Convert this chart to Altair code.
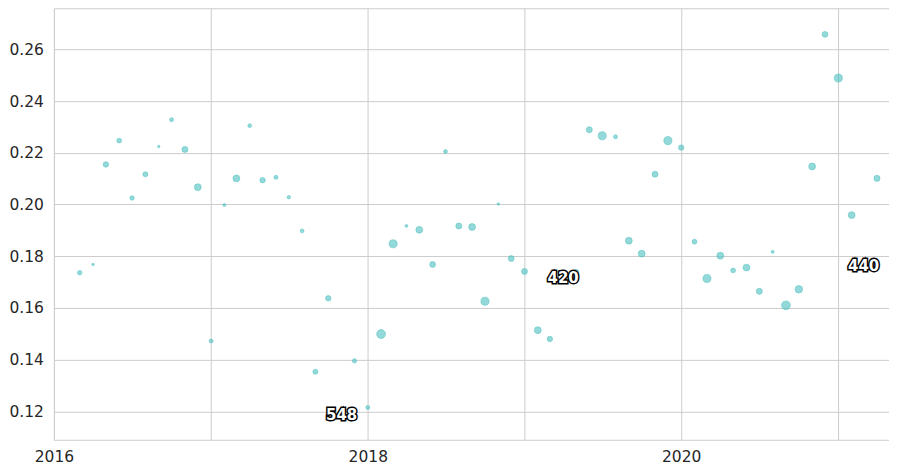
import altair as alt
import pandas as pd

months = [
    "2016-03", "2016-04", "2016-05", "2016-06", "2016-07", "2016-08", "2016-09", "2016-10", "2016-11", "2016-12",
    "2017-01", "2017-02", "2017-03", "2017-04", "2017-05", "2017-06", "2017-07", "2017-08", "2017-09", "2017-10", "2017-11", "2017-12",
    "2018-01", "2018-02", "2018-03", "2018-04", "2018-05", "2018-06", "2018-07", "2018-08", "2018-09", "2018-10", "2018-11", "2018-12",
    "2019-01", "2019-02", "2019-03", "2019-04", "2019-05", "2019-06", "2019-07", "2019-08", "2019-09", "2019-10", "2019-11", "2019-12",
    "2020-01", "2020-02", "2020-03", "2020-04", "2020-05", "2020-06", "2020-07", "2020-08", "2020-09", "2020-10", "2020-11", "2020-12",
    "2021-01", "2021-02", "2021-03", "2021-04",
]

values = [
    0.1736, 0.1768, 0.2155, 0.2247, 0.2025, 0.2117, 0.2224, 0.2328, 0.2213, 0.2067,
    0.1472, 0.1998, 0.2101, 0.2305, 0.2094, 0.2105, 0.2028, 0.1898, 0.1353, 0.1637, 0.1179, 0.1395,
    0.1215, 0.1499, 0.1848, 0.1917, 0.1902, 0.1768, 0.2205, 0.1917, 0.1913, 0.1626, 0.2002, 0.1791,
    0.1741, 0.1514, 0.1480, 0.1709, 0.1737, 0.2289, 0.2266, 0.2262, 0.1860, 0.1810, 0.2117, 0.2247,
    0.2220, 0.1856, 0.1714, 0.1802, 0.1745, 0.1756, 0.1664, 0.1817, 0.1610, 0.1672, 0.2147, 0.2658,
    0.2489, 0.1959, 0.1756, 0.2101,
]

counts = [
    145, 43, 219, 173, 145, 188, 43, 120, 270, 347,
    120, 68, 347, 108, 219, 120, 87, 108, 188, 219, 145, 132,
    120, 581, 480, 59, 347, 252, 108, 270, 347, 480, 43, 252,
    270, 347, 219, 219, 270, 270, 480, 120, 347, 347, 270, 480,
    219, 173, 480, 347, 173, 347, 270, 68, 581, 411, 347, 252,
    480, 347, 219, 270,
]

label_months = ["2017-11", "2019-04", "2021-03"]
label_texts = ["548", "420", "440"]

y_ticks = [0.12, 0.14, 0.16, 0.18, 0.20, 0.22, 0.24, 0.26]

df = pd.DataFrame({
    "date": [m + "-01" for m in months],
    "value": values,
    "count": counts,
})

lab_df = pd.DataFrame({
    "date": [m + "-01" for m in label_months],
    "value": [values[months.index(m)] for m in label_months],
    "label": label_texts,
})

FONT = "DejaVu Sans"
TXT = "#262626"
GRID = "#cccccc"

x_enc = alt.X(
    "date:T",
    title=None,
    scale=alt.Scale(
        type="utc",
        domain=[
            alt.DateTime(year=2016, month=1, date=1, utc=True),
            alt.DateTime(year=2021, month=4, date=29, utc=True),
        ],
    ),
    axis=alt.Axis(
        values=[alt.DateTime(year=y, month=1, date=1, utc=True) for y in range(2016, 2022)],
        labelExpr="utcyear(datum.value) % 2 == 0 ? utcFormat(datum.value, '%Y') : ''",
        grid=True,
        gridColor=GRID,
        gridWidth=1,
        ticks=False,
        tickSize=0,
        domain=False,
        labelFont=FONT,
        labelFontSize=15.5,
        labelColor=TXT,
        labelPadding=10,
        labelFlush=False,
        labelOverlap=False,
    ),
)

y_enc = alt.Y(
    "value:Q",
    title=None,
    scale=alt.Scale(domain=[0.109, 0.2759], nice=False, zero=False),
    axis=alt.Axis(
        values=y_ticks,
        format=".2f",
        grid=True,
        gridColor=GRID,
        gridWidth=1,
        ticks=False,
        tickSize=0,
        domain=False,
        labelFont=FONT,
        labelFontSize=15.5,
        labelColor=TXT,
        labelPadding=10.5,
    ),
)

points = alt.Chart(df).mark_circle(
    color="#4bc0c0",
    fillOpacity=0.6,
    stroke="#4bc0c0",
    strokeOpacity=0.6,
    strokeWidth=0.8,
).encode(
    x=x_enc,
    y=y_enc,
    size=alt.Size("count:Q", scale=alt.Scale(domain=[0, 600], range=[0, 82]), legend=None),
)

outline = alt.Chart(lab_df).mark_text(
    font=FONT, fontSize=15, fontWeight="bold", color="black",
    stroke="black", strokeWidth=3, align="center", baseline="middle", dy=-2,
).encode(x="date:T", y="value:Q", text="label:N")

fill = alt.Chart(lab_df).mark_text(
    font=FONT, fontSize=15, fontWeight="bold", color="white",
    align="center", baseline="middle", dy=-2,
).encode(x="date:T", y="value:Q", text="label:N")

chart = alt.layer(points, outline, fill).properties(
    width=836,
    height=432,
    padding={"left": 0, "top": 0, "right": 0, "bottom": 0},
    background="white",
).configure_view(stroke=GRID, strokeWidth=1)

chart.save("out.html", embed_options={"renderer": "svg", "actions": False})
